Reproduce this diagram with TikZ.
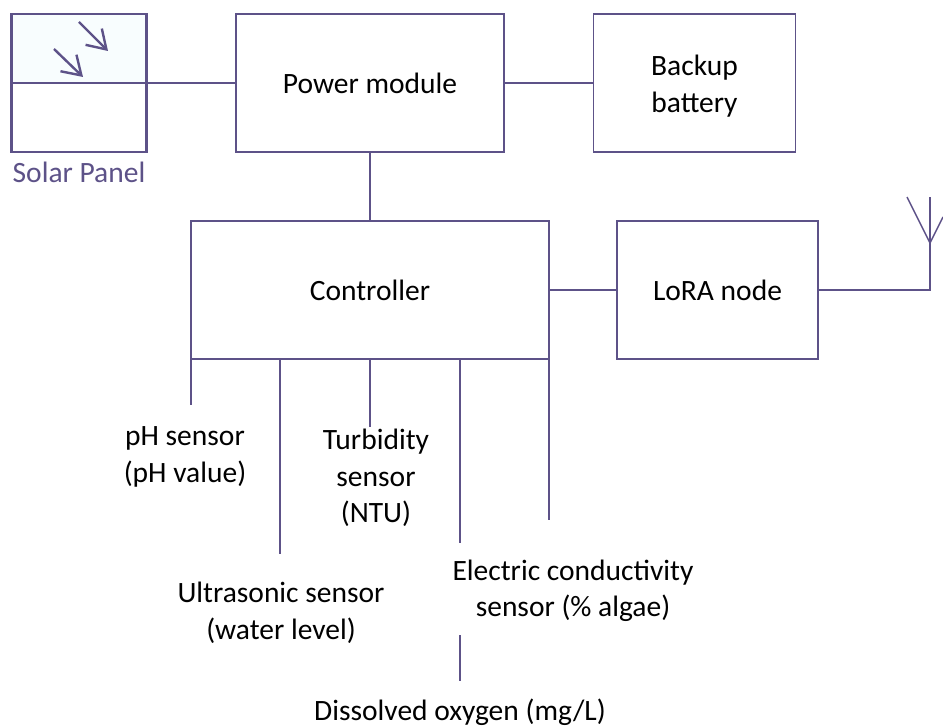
\documentclass[tikz,border=0pt]{standalone}
\usepackage{fontspec}
\setmainfont{Carlito}
\usepackage{xcolor}
\usetikzlibrary{positioning,arrows.meta}
\definecolor{boxline}{HTML}{5D5288}
\definecolor{panelfill}{HTML}{F8FDFE}

\begin{document}
\begin{tikzpicture}[x=1pt,y=-1pt,%
		   block/.style={draw=boxline,line width=1.5pt,rectangle,inner sep=0pt,align=center,minimum height=138pt,font=\fontsize{29.5}{37}\selectfont},
		   panel/.style={draw=boxline,line width=2.6pt,rectangle,inner sep=0pt,minimum width=135pt,minimum height=69pt},
		   sensor/.style={align=center,font=\fontsize{29.5}{36.5}\selectfont},
		   wire/.style={draw=boxline,line width=1.5pt},
		   ray/.style={draw=boxline,line width=2.4pt,-{Straight Barb[length=18pt,width=23pt]}}]
	    \useasboundingbox (0,0) rectangle (943,727);

	    % blocks
	    \node[block,minimum width=268pt](power) at (370,83) {Power module};
	    \node[block,minimum width=202pt,right=88pt of power](backup) {\rule{0pt}{27pt}Backup\\battery};
	    \node[block,minimum width=358pt](ctrl) at (370,290) {Controller};
	    \node[block,minimum width=201pt,right=66.5pt of ctrl](lora) {LoRA node};

	    % solar panel
	    \node[panel,fill=panelfill](paneltop) at (79,48.5) {};
	    \node[panel,below=-2.6pt of paneltop](panelbot) {};
	    \node[text=boxline,font=\fontsize{29.5}{24}\selectfont,below=5pt of panelbot](solar) {Solar Panel};
	    \coordinate (ray1a) at (79,22); \coordinate (ray1b) at (108,51);
	    \coordinate (ray2a) at (54,49); \coordinate (ray2b) at (83,77);
	    \draw[ray] (ray1a) -- (ray1b);
	    \draw[ray] (ray2a) -- (ray2b);

	    % sensor labels
	    \node[sensor](ph) at (185,457) {pH sensor\\(pH value)};
	    \node[sensor](turb) at (376,478) {Turbidity\\sensor\\(NTU)};
	    \node[sensor](ultra) at (281,613) {Ultrasonic sensor\\(water level)};
	    \node[sensor](elec) at (573,591) {Electric conductivity\\sensor (\% algae)};
	    \node[sensor](oxy) at (460,712) {Dissolved oxygen (mg/L)};

	    % links between blocks
	    \draw[wire] (power.west -| paneltop.east) -- (power.west);
	    \draw[wire] (power) -- (backup);
	    \draw[wire] (power.south -| ctrl.north) -- (ctrl.north);
	    \draw[wire] (ctrl) -- (lora);

	    % sensor stubs
	    \foreach \name/\xa/\ya in {%
	       phend/191/405,%
	       ultraend/280/554,%
	       turbend/370/427,%
	       elecend/460/543,%
	       lastend/549/520%
	       } { \coordinate (\name) at (\xa,\ya);
		   \draw[wire] (\name |- ctrl.south) -- (\name);
	       }
	    \coordinate (oxya) at (460,635);
	    \coordinate (oxyb) at (460,681);
	    \draw[wire] (oxya) -- (oxyb);

	    % antenna
	    \coordinate (mast) at (930,243);
	    \coordinate (mastbase) at (930,290);
	    \coordinate (mastop) at (930,197);
	    \coordinate (armleft) at (907,197);
	    \coordinate (armright) at (943,217);
	    \draw[wire] (lora) -- (mastbase) -- (mastop);
	    \draw[wire] (armleft) -- (mast) -- (armright);
	\end{tikzpicture}
\end{document}
